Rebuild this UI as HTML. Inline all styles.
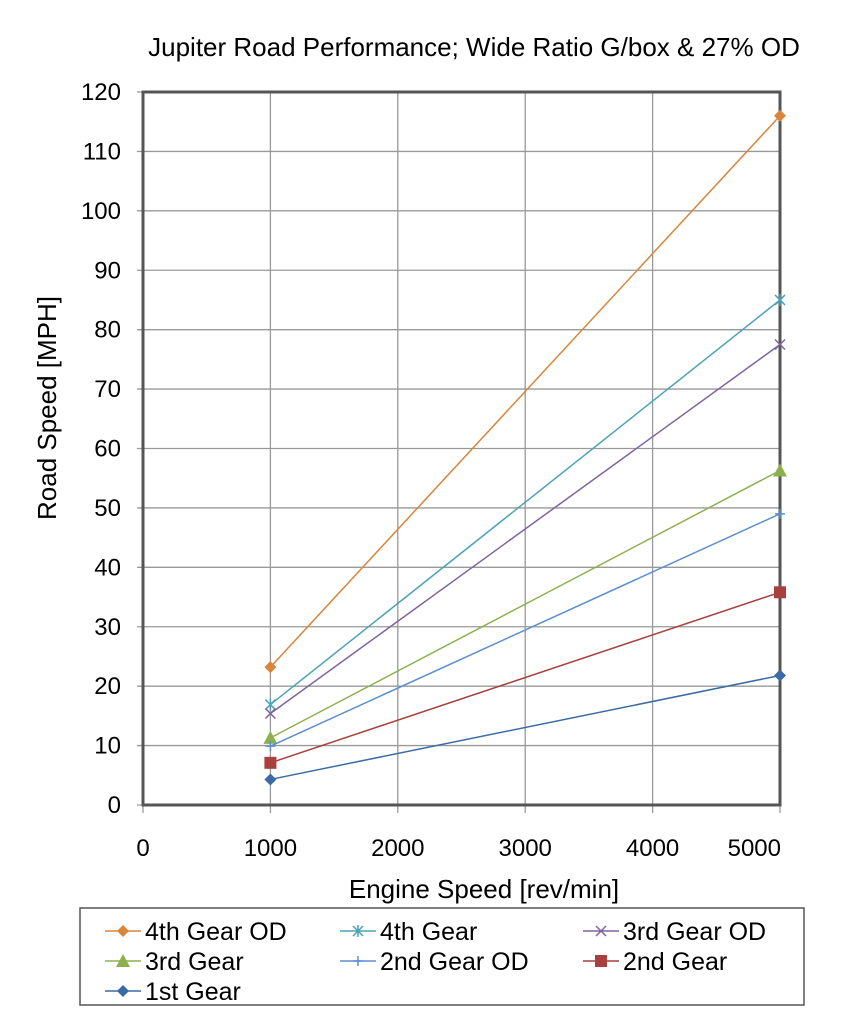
<!DOCTYPE html>
<html><head><meta charset="utf-8"><style>
body{margin:0;background:#fff;font-family:"Liberation Sans",sans-serif}
svg text{font-family:"Liberation Sans",sans-serif}
</style></head><body>
<svg width="854" height="1024" xmlns="http://www.w3.org/2000/svg">
<text x="474" y="56" font-size="26" text-anchor="middle">Jupiter Road Performance; Wide Ratio G/box &amp; 27% OD</text>
<g id="grid"></g>
<g id="axes"></g>
<g id="series"></g>
<text x="484" y="898" font-size="26" text-anchor="middle">Engine Speed [rev/min]</text>
<text transform="translate(56,408) rotate(-90)" font-size="26" text-anchor="middle">Road Speed [MPH]</text>
<rect x="80" y="908" width="724" height="97" fill="#fff" stroke="#555" stroke-width="1.5"/>
<g id="legend"></g>
</svg>
<script>
const xTicks=[0,1000,2000,3000,4000,5000];
const yTicks=[0,10,20,30,40,50,60,70,80,90,100,110,120];
const rpm=[1000,5000];
const seriesNames=["4th Gear OD","4th Gear","3rd Gear OD","3rd Gear","2nd Gear OD","2nd Gear","1st Gear"];
const s4od=[23.2,116.0];
const s4=[16.9,85.0];
const s3od=[15.4,77.5];
const s3=[11.3,56.3];
const s2od=[9.9,49.0];
const s2=[7.1,35.8];
const s1=[4.3,21.8];
const seriesValues=[s4od,s4,s3od,s3,s2od,s2,s1];
const colors=["#D9853B","#4BA3B5","#7D64A0","#8DB04E","#5B8FD0","#A8403E","#3A6BA5"];
const markers=["diamond","star","x","tri","plus","square","diamond"];
const NS="http://www.w3.org/2000/svg";
const X0=143,X1=780,Y0=805,Y1=92;
const xs=v=>X0+(v-0)/5000*(X1-X0);
const ys=v=>Y0-(v-0)/120*(Y0-Y1);
function mk(tag,attrs,parent){const e=document.createElementNS(NS,tag);for(const k in attrs)e.setAttribute(k,attrs[k]);parent.appendChild(e);return e;}
const grid=document.getElementById('grid'),axes=document.getElementById('axes'),ser=document.getElementById('series'),leg=document.getElementById('legend');
xTicks.forEach((t,i)=>{
  const l=mk('line',{x1:xs(t),x2:xs(t),y1:Y1,y2:Y0+8,stroke:'#999','stroke-width':1.3},grid);
  
  
  const last=i===xTicks.length-1;
  const tx=mk('text',{x:last?xs(t)+1:xs(t),y:856,'font-size':24,'text-anchor':last?'end':'middle'},axes);
  tx.textContent=t;
  
  
});
yTicks.forEach(t=>{
  const l=mk('line',{x1:X0-6,x2:X1,y1:ys(t),y2:ys(t),stroke:'#999','stroke-width':1.3},grid);
  
  
  const tx=mk('text',{x:121,y:ys(t)+8,'font-size':24,'text-anchor':'end'},axes);
  tx.textContent=t;
  
  
});
const fr=mk('rect',{x:X0,y:Y1,width:X1-X0,height:Y0-Y1,fill:'none',stroke:'#555','stroke-width':3},axes);


function marker(type,x,y,c,g){
  let e;
  if(type==='diamond')e=mk('polygon',{points:`${x},${y-6} ${x+6},${y} ${x},${y+6} ${x-6},${y}`,fill:c},g);
  else if(type==='square')e=mk('rect',{x:x-6,y:y-6,width:12,height:12,fill:c},g);
  else if(type==='tri')e=mk('polygon',{points:`${x},${y-7} ${x+7},${y+6} ${x-7},${y+6}`,fill:c},g);
  else if(type==='x')e=mk('path',{d:`M${x-5} ${y-5}L${x+5} ${y+5}M${x-5} ${y+5}L${x+5} ${y-5}`,stroke:c,'stroke-width':1.5,fill:'none'},g);
  else if(type==='plus')e=mk('path',{d:`M${x-5} ${y}L${x+5} ${y}M${x} ${y-5}L${x} ${y+5}`,stroke:c,'stroke-width':1.5},g);
  else e=mk('path',{d:`M${x-5} ${y-5}L${x+5} ${y+5}M${x-5} ${y+5}L${x+5} ${y-5}M${x} ${y-6}L${x} ${y+6}`,stroke:c,'stroke-width':1.5},g);
  return e;
}
seriesValues.forEach((vals,i)=>{
  const g=mk('g',{},ser);
  
  
  const pts=vals.map((v,j)=>xs(rpm[j])+','+ys(v)).join(' ');
  mk('polyline',{points:pts,fill:'none',stroke:colors[i],'stroke-width':1.5},g);
  vals.forEach((v,j)=>{const m=marker(markers[i],xs(rpm[j]),ys(v),colors[i],g);
    
    });
});
const lx=[105,340,583],ly=[931,961,991];
seriesNames.forEach((n,i)=>{
  const x=lx[i%3],y=ly[Math.floor(i/3)];
  const g=mk('g',{},leg);
  
  
  mk('line',{x1:x,x2:x+36,y1:y,y2:y,stroke:colors[i],'stroke-width':1.5},g);
  marker(markers[i],x+18,y,colors[i],g);
  const t=mk('text',{x:x+40,y:y+9,'font-size':25},g);t.textContent=n;
});
</script>
</body></html>
